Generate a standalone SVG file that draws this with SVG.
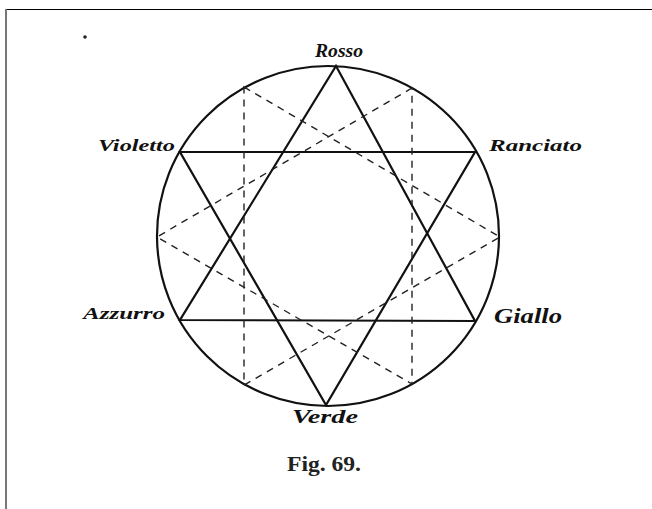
<svg xmlns="http://www.w3.org/2000/svg" width="652" height="509" viewBox="0 0 652 509">
<style>
.hand{font-family:"Liberation Serif","DejaVu Serif",serif;font-style:italic;font-weight:bold;fill:#111}
.solid{stroke:#111;stroke-width:2.2;fill:none;stroke-linecap:round}
.dash{stroke:#222;stroke-width:1.4;fill:none;stroke-dasharray:7 6}
</style>
<rect width="652" height="509" fill="#fff"/>
<line x1="5" y1="9.5" x2="652" y2="9.5" stroke="#000" stroke-width="1.2"/>
<line x1="6" y1="9" x2="6" y2="509" stroke="#777" stroke-width="2"/>
<circle cx="85" cy="37" r="1.8" fill="#222"/>
<g id="circle"><ellipse cx="328" cy="236" rx="171" ry="170" class="solid"/></g>
<g id="connectors">
<polygon class="solid" points="336,66 475,321 180,320"/>
<polygon class="solid" points="180,152 475,152 326,405"/>
<polygon class="dash" points="244,87 500,237 244,385"/>
<polygon class="dash" points="412,88 157,237 412,384"/>
</g>
<g id="rosso"><text class="hand" x="315" y="57" font-size="18" textLength="48" lengthAdjust="spacingAndGlyphs">Rosso</text></g>
<g id="violetto"><text class="hand" x="98" y="151" font-size="17" textLength="77" lengthAdjust="spacingAndGlyphs">Violetto</text></g>
<g id="ranciato"><text class="hand" x="489" y="151" font-size="17" textLength="93" lengthAdjust="spacingAndGlyphs">Ranciato</text></g>
<g id="azzurro"><text class="hand" x="83" y="319" font-size="17" textLength="82" lengthAdjust="spacingAndGlyphs">Azzurro</text></g>
<g id="giallo"><text class="hand" x="494" y="323" font-size="22" textLength="68" lengthAdjust="spacingAndGlyphs">Giallo</text></g>
<g id="verde"><text class="hand" x="292" y="423" font-size="18" textLength="66" lengthAdjust="spacingAndGlyphs">Verde</text></g>
<g id="caption"><text x="287" y="471" font-family="Liberation Serif,serif" font-weight="bold" font-size="20" fill="#222" textLength="74" lengthAdjust="spacingAndGlyphs">Fig. 69.</text></g>
</svg>
